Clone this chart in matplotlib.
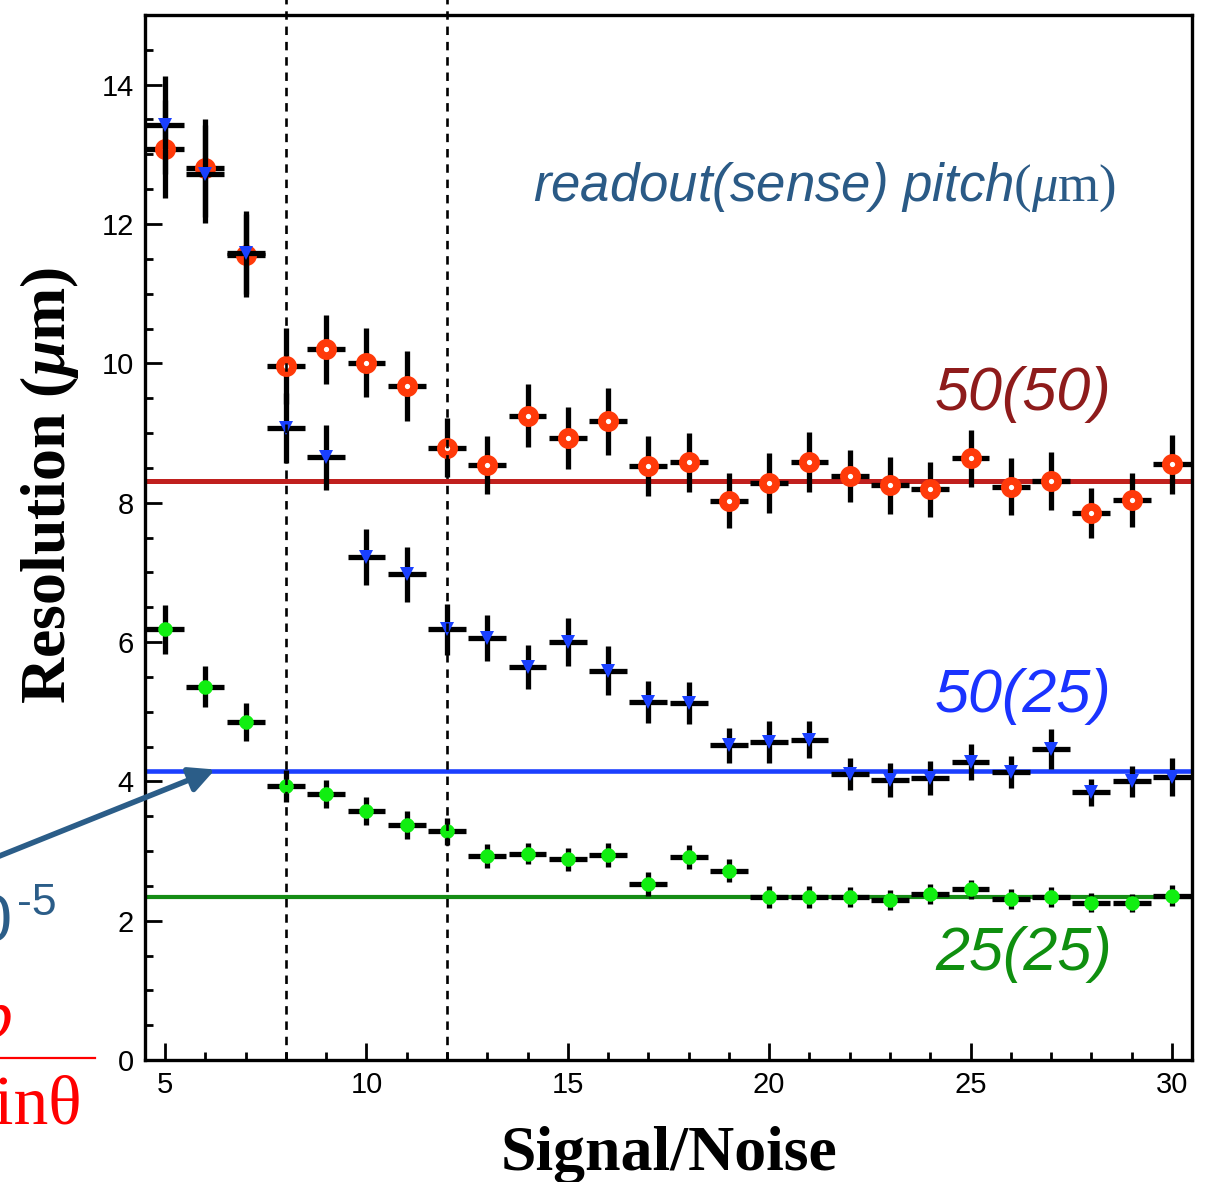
import numpy as np
import matplotlib
matplotlib.use("Agg")
import matplotlib.pyplot as plt
from matplotlib.ticker import MultipleLocator
from matplotlib.lines import Line2D

plt.rcParams['mathtext.fontset'] = 'custom'
plt.rcParams['mathtext.rm'] = 'Liberation Serif'
plt.rcParams['mathtext.it'] = 'Liberation Serif:italic'
plt.rcParams['mathtext.bf'] = 'Liberation Serif:bold'
plt.rcParams['mathtext.bfit'] = 'Liberation Serif:bold:italic'

# signal/noise bins
sn = np.arange(5, 31)

# 50(50) pitch
res_50_50 = [13.08, 12.80, 11.55, 9.96, 10.20, 10.01, 9.67, 8.79, 8.54, 9.25, 8.93, 9.17, 8.52,
             8.58, 8.03, 8.28, 8.58, 8.38, 8.25, 8.19, 8.64, 8.23, 8.31, 7.85, 8.04, 8.55]
err_50_50 = [0.70, 0.70, 0.60, 0.55, 0.50, 0.50, 0.50, 0.42, 0.42, 0.45, 0.45, 0.48, 0.43,
             0.42, 0.40, 0.43, 0.43, 0.37, 0.41, 0.40, 0.41, 0.41, 0.42, 0.36, 0.39, 0.42]

# 50(25) pitch
res_50_25 = [13.42, 12.72, 11.59, 9.07, 8.65, 7.22, 6.97, 6.18, 6.06, 5.64, 6.00, 5.59, 5.14,
             5.12, 4.52, 4.57, 4.60, 4.11, 4.02, 4.05, 4.28, 4.13, 4.46, 3.84, 4.00, 4.06]
err_50_25 = [0.70, 0.70, 0.60, 0.50, 0.47, 0.40, 0.40, 0.36, 0.33, 0.32, 0.34, 0.35, 0.30,
             0.30, 0.25, 0.30, 0.27, 0.23, 0.25, 0.24, 0.26, 0.23, 0.29, 0.20, 0.22, 0.27]

# 25(25) pitch
res_25_25 = [6.18, 5.36, 4.85, 3.93, 3.82, 3.58, 3.37, 3.28, 2.93, 2.96, 2.88, 2.94, 2.53,
             2.91, 2.72, 2.34, 2.34, 2.34, 2.30, 2.38, 2.45, 2.31, 2.34, 2.26, 2.25, 2.36]
err_25_25 = [0.35, 0.29, 0.27, 0.23, 0.20, 0.20, 0.20, 0.19, 0.17, 0.15, 0.16, 0.17, 0.17,
             0.17, 0.16, 0.16, 0.16, 0.14, 0.14, 0.14, 0.14, 0.14, 0.15, 0.13, 0.13, 0.15]

# fitted plateau levels
fit_50_50 = 8.31
fit_50_25 = 4.15
fit_25_25 = 2.34

sn_cuts = [8, 12]

fig = plt.figure(figsize=(12.12, 11.82), dpi=100)
ax = fig.add_axes([145 / 1212, 122 / 1182, 1047 / 1212, 1045 / 1182])

ax.axhline(fit_50_50, color='#c0201e', lw=3.6, zorder=1)
ax.axhline(fit_50_25, color='#1b3fff', lw=3.3, zorder=1)
ax.axhline(fit_25_25, color='#148c14', lw=3.0, zorder=1)

for xc in sn_cuts:
    ax.add_line(Line2D([xc, xc], [0, 15.25], color='black', lw=1.9,
                       linestyle=(0, (3.2, 2.6)), clip_on=False, zorder=5))

series = [
    (res_50_50, err_50_50, dict(marker='o', ms=9.5, mfc='white', mec='#ff3a0a', mew=5.6)),
    (res_50_25, err_50_25, dict(marker='v', ms=9.5, mfc='#1a40ff', mec='#1a40ff', mew=0)),
    (res_25_25, err_25_25, dict(marker='o', ms=10.5, mfc='#11ee11', mec='#11ee11', mew=0)),
]
z = 2
for res, err, mk in series:
    ax.errorbar(sn, res, xerr=0.47, yerr=err, fmt='none', ecolor='black',
                elinewidth=3.8, capsize=0, zorder=z)
    ax.plot(sn, res, linestyle='none', zorder=z + 0.5, **mk)
    z += 1

ax.set_xlim(4.5, 30.5)
ax.set_ylim(0, 15)
ax.xaxis.set_major_locator(MultipleLocator(5))
ax.xaxis.set_minor_locator(MultipleLocator(1))
ax.yaxis.set_major_locator(MultipleLocator(2))
ax.yaxis.set_minor_locator(MultipleLocator(0.5))
ax.tick_params(which='both', direction='in', top=False, right=False, width=2)
ax.tick_params(which='major', length=12.5)
ax.tick_params(which='minor', length=5.5)
ax.tick_params(axis='both', labelsize=21, pad=8)
for lab in ax.get_xticklabels() + ax.get_yticklabels():
    lab.set_fontfamily('Liberation Sans')
for sp in ax.spines.values():
    sp.set_linewidth(2.4)

ax.set_xlabel('Signal/Noise', fontfamily='Liberation Serif', fontweight='bold',
              fontsize=46)
ax.xaxis.set_label_coords(0.5, -0.063, transform=ax.transAxes)
ax.xaxis.label.set_va('top')
ax.set_ylabel(r'Resolution ($\mathbfit{\mu}$m)', fontfamily='Liberation Serif',
              fontweight='bold', fontsize=46)
ax.yaxis.set_label_coords(-0.091, 0.55)
ax.yaxis.label.set_va('center')

ax.text(28.63, 12.34, r'readout(sense) pitch$(\mu\mathrm{m})$', color='#2a5a86',
        fontfamily='Liberation Sans', fontstyle='italic', fontsize=38, ha='right')
ax.text(28.51, 9.33, '50(50)', color='#8e1b1b', fontfamily='Liberation Sans',
        fontstyle='italic', fontsize=44, ha='right')
ax.text(28.51, 4.99, '50(25)', color='#1a33ff', fontfamily='Liberation Sans',
        fontstyle='italic', fontsize=44, ha='right')
ax.text(28.51, 1.29, '25(25)', color='#0f8f0f', fontfamily='Liberation Sans',
        fontstyle='italic', fontsize=44, ha='right')

# arrow coming in from the left margin
ax.annotate('', xy=(6.24, 4.17), xytext=(-0.4, 2.63), annotation_clip=False,
            arrowprops=dict(arrowstyle='-|>', color='#2b5d88', lw=4,
                            mutation_scale=38, shrinkA=0, shrinkB=0))

# cut-off annotation at the left edge
fig.text(12 / 1212, 1 - 942 / 1182, u'\u00d710', color='#2b5d88', fontfamily='Liberation Sans',
         fontsize=48, ha='right', va='baseline')
fig.text(17 / 1212, 1 - 915 / 1182, '-5', color='#2b5d88', fontfamily='Liberation Sans',
         fontsize=32, ha='left', va='baseline')
fig.text(12 / 1212, 1 - 1037 / 1182, 'b', color='red', fontfamily='Liberation Serif',
         fontstyle='italic', fontsize=50, ha='right', va='baseline')
fig.add_artist(Line2D([0, 95 / 1212], [1 - 1058 / 1182, 1 - 1058 / 1182], color='red', lw=1.6))
fig.text(82 / 1212, 1 - 1123 / 1182, u'sin\u03b8', color='red', fontfamily='Liberation Serif',
         fontsize=50, ha='right', va='baseline')

fig.savefig('out.png', dpi=100)
